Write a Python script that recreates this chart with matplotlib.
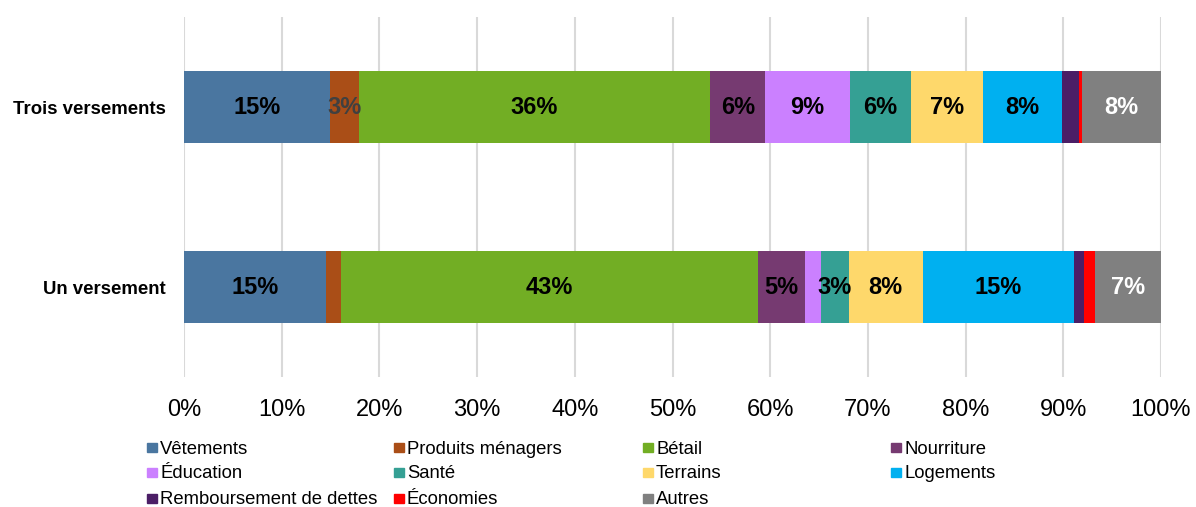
import matplotlib
matplotlib.use("Agg")
import matplotlib.pyplot as plt
from matplotlib.patches import Rectangle
import numpy as np

plt.rcParams["font.family"] = ["Liberation Sans", "DejaVu Sans"]

categories = ["Un versement", "Trois versements"]
series = ["Vêtements", "Produits ménagers", "Bétail", "Nourriture",
          "Éducation", "Santé", "Terrains", "Logements",
          "Remboursement de dettes", "Économies", "Autres"]
# shares in percent, [Un versement, Trois versements]
vetements = [14.55, 14.91]
produits = [1.55, 2.97]
betail = [42.65, 36.00]
nourriture = [4.78, 5.59]
education = [1.64, 8.67]
sante = [2.87, 6.24]
terrains = [7.57, 7.40]
logements = [15.46, 8.13]
remboursement = [1.05, 1.67]
economies = [1.10, 0.31]
autres = [6.78, 8.12]
values = [vetements, produits, betail, nourriture, education, sante,
          terrains, logements, remboursement, economies, autres]

colors = ["#4A76A0", "#AA4E17", "#72AE24", "#763A71", "#CB80FF", "#35A094",
          "#FED86B", "#00B0F0", "#4B1E66", "#FF0000", "#808080"]
label_colors = ["black", "#404040", "black", "black", "black", "black",
                "black", "black", "black", "black", "white"]
label_min = 2.5

fig = plt.figure(figsize=(11.96, 5.07), dpi=100)
ax = fig.add_axes([184 / 1196, 1 - 377 / 507, 977 / 1196, 360 / 507])

y = np.arange(len(categories))
left = np.zeros(len(categories))
for name, vals, col, tcol in zip(series, values, colors, label_colors):
    vals = np.array(vals)
    ax.barh(y, vals, left=left, height=0.4, color=col, label=name, zorder=3)
    for yi, (l, v) in enumerate(zip(left, vals)):
        if v >= label_min:
            ax.text(l + v / 2, yi, f"{v:.0f}%", ha="center", va="center",
                    fontsize=17, fontweight="bold", color=tcol, zorder=4)
    left += vals

ax.set_xlim(0, 100)
ax.set_ylim(-0.5, 1.5)
ax.set_xticks(np.arange(0, 101, 10))
ax.set_xticklabels([f"{t}%" for t in range(0, 101, 10)], fontsize=17)
ax.set_yticks(y)
ax.set_yticklabels(categories, fontsize=13.4, fontweight="bold")
ax.tick_params(axis="x", length=0, pad=16)
ax.tick_params(axis="y", length=0, pad=13)
ax.grid(axis="x", color="#D9D9D9", linewidth=1.5, zorder=0)
for s in ax.spines.values():
    s.set_visible(False)

# legend laid out in a 4-column grid below the plot
W, H = 1196, 507
col_x = [147, 394, 643, 891]
row_y = [447, 472, 498]
for i, (name, col) in enumerate(zip(series, colors)):
    cx = col_x[i % 4]
    cy = row_y[i // 4]
    fig.patches.append(Rectangle((cx / W, 1 - (cy + 4.5) / H), 9.5 / W, 9 / H,
                                 transform=fig.transFigure, color=col,
                                 figure=fig))
    fig.text((cx + 13) / W, 1 - (cy + 6.5) / H, name, fontsize=13.3,
             ha="left", va="baseline", color="black")

fig.savefig("out.png", dpi=100)
